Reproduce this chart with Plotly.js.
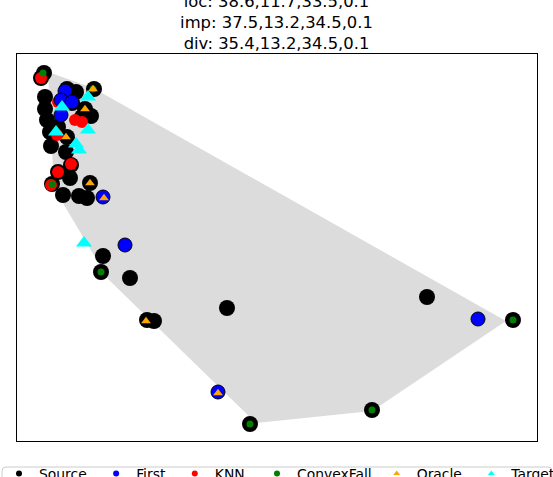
<!DOCTYPE html>
<html>
<head>
<meta charset="utf-8">
<script src="https://cdn.plot.ly/plotly-3.0.1.min.js"></script>
<style>html,body{margin:0;padding:0;background:#fff}#chart{width:553px;height:477px}</style>
</head>
<body>
<div id="chart"></div>
<script>
// Values (plot units: x to the right, y upward)
var sourceX = [27,24,28,28,30,33,34,49,54,41,53,35,46,62,70,73,77,68,59,50,65,74,50,41,55,86,84,113,130,137,210,410,496,233,355];
var sourceY = [368,363,344,332,321,309,295,289,276,269,263,257,246,245,243,258,352,332,349,352,324,325,304,314,338,185,169,163,121,120,133,144,121,17,31];

var firstX = [48,44,55,44,86,108,201,461];
var firstY = [350,341,339,326,244,196,49,122];

var knnX = [24,41,58,65,40,54,41,34];
var knnY = [363,339,321,319,306,277,269,256];

var convexX = [26,76,35,84,233,355,496];
var convexY = [368,352,257,169,17,31,121];

var oracleX = [76,68,49,73,87,129,201];
var oracleY = [352,332,304,258,243,120,48];

var targetX = [71,45,39,71,59,62,67];
var targetY = [344,334,309,311,297,291,198];

var hullX = [31,76,489,355,239,91,37];
var hullY = [369,353,120,30,18,162,253];

var seriesNames = ['Source','First','KNN','ConvexFall','Oracle','Target'];
var titleLines = ['loc: 38.6,11.7,33.5,0.1','imp: 37.5,13.2,34.5,0.1','div: 35.4,13.2,34.5,0.1'];

var FONT = 'DejaVu Sans, sans-serif';
var W = 553, H = 477;
var plotL = 17, plotR = 537, plotT = 54, plotB = 441;

var traces = [
  {x: hullX, y: hullY, type:'scatter', mode:'lines', fill:'toself', fillcolor:'#dcdcdc',
   line:{width:0, color:'#dcdcdc'}, showlegend:false, hoverinfo:'skip'},
  {x: sourceX, y: sourceY, type:'scatter', mode:'markers', showlegend:false,
   marker:{symbol:'circle', size:16, color:'#000000', line:{width:0}}},
  {x: knnX, y: knnY, type:'scatter', mode:'markers', showlegend:false,
   marker:{symbol:'circle', size:12, color:'#ff0000', line:{width:0}}},
  {x: firstX, y: firstY, type:'scatter', mode:'markers', showlegend:false,
   marker:{symbol:'circle', size:14, color:'#0000ff', line:{width:1, color:'#000000'}}},
  {x: convexX, y: convexY, type:'scatter', mode:'markers', showlegend:false,
   marker:{symbol:'circle', size:7, color:'#008000', line:{width:0}}},
  {x: oracleX, y: oracleY, type:'scatter', mode:'markers', showlegend:false,
   marker:{symbol:'triangle-up', size:8.5, color:'#ffa500', line:{width:0}}},
  {x: targetX, y: targetY, type:'scatter', mode:'markers', showlegend:false,
   marker:{symbol:'triangle-up', size:14, color:'#00ffff', line:{width:0}}}
];

// legend entries (small symbols, as in the reference legend)
var legendColors = ['#000000','#0000ff','#ff0000','#008000','#ffa500','#00ffff'];
var legendSymbols = ['circle','circle','circle','circle','triangle-up','triangle-up'];
var legendGroupOf = ['legend','legend','legend','legend2','legend2','legend2'];
var namePad = ['\u00a0','\u00a0','','','\u00a0',''];
for (var i = 0; i < seriesNames.length; i++) {
  traces.push({x:[null], y:[null], type:'scatter', mode:'markers', name: seriesNames[i] + namePad[i],
    legend: legendGroupOf[i], showlegend:true,
    marker:{symbol: legendSymbols[i], size:6, color: legendColors[i]}});
}

function py(p) { return (plotB - p) / (plotB - plotT); }   // pixel row -> paper y
function px(p) { return p / W; }                              // pixel col -> paper x

var boxTop = py(467), boxBot = py(520), bx0 = px(2), bx1 = px(552);
var rx = 4 / W, ry = 4 / (plotB - plotT);
var boxPath = 'M' + bx0 + ',' + boxBot + ' L' + bx0 + ',' + (boxTop - ry) +
  ' Q' + bx0 + ',' + boxTop + ' ' + (bx0 + rx) + ',' + boxTop +
  ' L' + (bx1 - rx) + ',' + boxTop + ' Q' + bx1 + ',' + boxTop + ' ' + bx1 + ',' + (boxTop - ry) +
  ' L' + bx1 + ',' + boxBot + ' Z';

var legendFont = {family:FONT, size:13.9, color:'#000000'};
var layout = {
  width:W, height:H,
  margin:{l:0, r:0, t:plotT, b:H - plotB, autoexpand:false},
  paper_bgcolor:'#ffffff', plot_bgcolor:'#ffffff',
  font:{family:FONT, color:'#000000'},
  title:{text: titleLines.join('<br>'), font:{family:FONT, size:16.4, color:'#000000'},
         xref:'paper', x:0.5, xanchor:'center', yref:'container', y:0.986, yanchor:'middle'},
  xaxis:{domain:[plotL / W, plotR / W], range:[0,520], showgrid:false, zeroline:false,
         showticklabels:false, ticks:'', showline:true, mirror:true, linecolor:'#000000',
         linewidth:1, fixedrange:true},
  yaxis:{range:[0,387], showgrid:false, zeroline:false, showticklabels:false, ticks:'',
         showline:true, mirror:true, linecolor:'#000000', linewidth:1, fixedrange:true},
  shapes:[{type:'path', xref:'paper', yref:'paper', path: boxPath, layer:'above',
           fillcolor:'#ffffff', line:{color:'#cccccc', width:1}}],
  showlegend:true,
  legend:{orientation:'h', x:px(-1), xanchor:'left', y:py(458), yanchor:'top',
          bgcolor:'rgba(0,0,0,0)', borderwidth:0, font:legendFont},
  legend2:{orientation:'h', x:px(257), xanchor:'left', y:py(458), yanchor:'top',
          bgcolor:'rgba(0,0,0,0)', borderwidth:0, font:legendFont}
};

Plotly.newPlot('chart', traces, layout, {displayModeBar:false, staticPlot:true});
</script>
</body>
</html>
